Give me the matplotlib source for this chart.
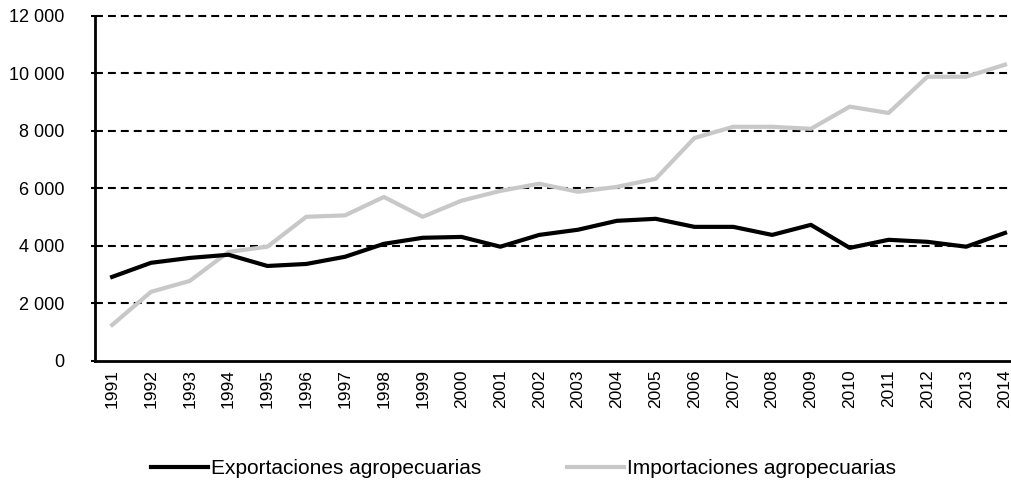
import matplotlib.pyplot as plt
from matplotlib.ticker import FuncFormatter

years = [str(y) for y in range(1991, 2015)]
exportaciones = [2920, 3410, 3580, 3690, 3300, 3370, 3620, 4070, 4280, 4310, 3970, 4380,
                 4560, 4870, 4940, 4660, 4660, 4380, 4730, 3930, 4210, 4140, 3970, 4450]
importaciones = [1250, 2400, 2780, 3790, 3970, 5010, 5060, 5700, 5010, 5570, 5910, 6160,
                 5880, 6050, 6330, 7750, 8140, 8140, 8070, 8840, 8620, 9880, 9880, 10300]

plt.rcParams['font.family'] = ['Liberation Sans', 'DejaVu Sans']

fig = plt.figure(figsize=(10.12, 4.93), dpi=100)
ax = fig.add_axes([0.094, 0.268, 0.906, 0.7])

x = range(len(years))
ax.plot(x, exportaciones, color='black', lw=3, label='Exportaciones agropecuarias', zorder=3)
ax.plot(x, importaciones, color='#c8c8c8', lw=3, label='Importaciones agropecuarias', zorder=2)

ax.set_ylim(0, 12000)
ax.set_yticks(range(0, 12001, 2000))
ax.yaxis.set_major_formatter(FuncFormatter(lambda v, p: "{:,}".format(int(v)).replace(",", " ")))
ax.set_xlim(-0.438, 23.18)
ax.set_xticks(list(x))
ax.set_xticklabels(years, rotation=90)
ax.tick_params(axis='x', length=0, labelsize=12.5, pad=6, colors='black')
ax.tick_params(axis='y', length=3, width=1.5, labelsize=13, pad=19, colors='black')

# dashed horizontal gridlines like the excel chart
for v in range(2000, 12001, 2000):
    ax.axhline(v, color='black', lw=1.5, ls=(0, (3.8, 2.4)), zorder=1, clip_on=False)

for s in ['top', 'right']:
    ax.spines[s].set_visible(False)
ax.spines['left'].set_linewidth(2)
ax.spines['bottom'].set_linewidth(2)

fig.legend(loc='lower center', bbox_to_anchor=(0.517, -0.008), ncol=2, frameon=False,
           fontsize=15, handlelength=2.74, handletextpad=0.15, columnspacing=4.1)

plt.savefig('out.png', dpi=100)
